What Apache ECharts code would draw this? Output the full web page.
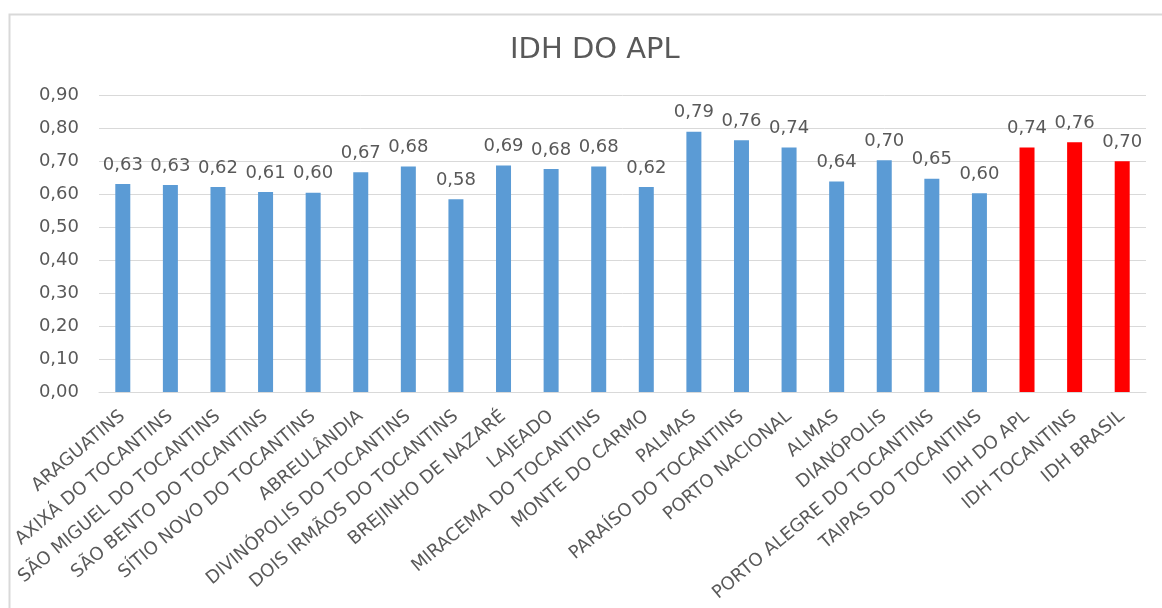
<!DOCTYPE html>
<html>
<head>
<meta charset="utf-8">
<script src="https://cdn.jsdelivr.net/npm/echarts@6/dist/echarts.min.js"></script>
<style>
  html, body { margin: 0; padding: 0; background: #fff; }
  #chart { width: 1162px; height: 608px; }
</style>
</head>
<body>
<div id="chart"></div>
<script>
  // municipios do APL + referencias
  const categories = [
    'ARAGUATINS', 'AXIXÁ DO TOCANTINS', 'SÃO MIGUEL DO TOCANTINS', 'SÃO BENTO DO TOCANTINS',
    'SÍTIO NOVO DO TOCANTINS', 'ABREULÂNDIA', 'DIVINÓPOLIS DO TOCANTINS', 'DOIS IRMÃOS DO TOCANTINS',
    'BREJINHO DE NAZARÉ', 'LAJEADO', 'MIRACEMA DO TOCANTINS', 'MONTE DO CARMO', 'PALMAS',
    'PARAÍSO DO TOCANTINS', 'PORTO NACIONAL', 'ALMAS', 'DIANÓPOLIS', 'PORTO ALEGRE DO TOCANTINS',
    'TAIPAS DO TOCANTINS', 'IDH DO APL', 'IDH TOCANTINS', 'IDH BRASIL'
  ]
  const idhValues = [
    0.630, 0.627, 0.621, 0.606, 0.604, 0.666, 0.683, 0.584, 0.686, 0.676, 0.683,
    0.621, 0.789, 0.763, 0.741, 0.638, 0.702, 0.646, 0.602, 0.741, 0.757, 0.699
  ]
  const highlighted = ['IDH DO APL', 'IDH TOCANTINS', 'IDH BRASIL']
  const yTicks = { min: 0, max: 0.9, interval: 0.1 }

  const BLUE = '#5b9bd5'
  const RED = '#ff0000'
  const TEXT = '#595959'
  const FONT = 'DejaVu Sans'
  const fmt = (v) => v.toFixed(2).replace('.', ',')

  let chart = echarts.init(document.getElementById('chart'))
  let option = {
    backgroundColor: '#fff',
    animation: false,
    textStyle: { fontFamily: FONT },
    title: {
      text: 'IDH DO APL',
      left: 505,
      top: 31,
      textStyle: { color: TEXT, fontSize: 29, fontWeight: 'normal', fontFamily: FONT }
    },
    graphic: [{
      type: 'rect',
      left: 7,
      top: 12,
      shape: { width: 1170, height: 620 },
      style: { fill: 'none', stroke: '#d9d9d9', lineWidth: 2 },
      silent: true
    }],
    grid: { left: 99, right: 16, top: 95, bottom: 216 },
    xAxis: {
      type: 'category',
      data: categories,
      axisLine: { lineStyle: { color: '#d9d9d9', width: 1 } },
      axisTick: { show: false },
      axisLabel: {
        interval: 0,
        rotate: 40,
        color: TEXT,
        fontSize: 18,
        fontFamily: FONT,
        margin: 22
      }
    },
    yAxis: {
      type: 'value',
      min: yTicks.min,
      max: yTicks.max,
      interval: yTicks.interval,
      axisLine: { show: false },
      axisTick: { show: false },
      splitLine: { lineStyle: { color: '#d9d9d9', width: 1 } },
      axisLabel: {
        color: TEXT,
        fontSize: 18,
        fontFamily: FONT,
        margin: 20,
        formatter: (v) => fmt(v)
      }
    },
    series: [{
      type: 'bar',
      barWidth: 15,
      data: idhValues.map((v, i) => ({
        value: v,
        itemStyle: { color: highlighted.includes(categories[i]) ? RED : BLUE }
      })),
      label: {
        show: true,
        position: 'top',
        distance: 10,
        color: TEXT,
        fontSize: 18,
        fontFamily: FONT,
        formatter: (p) => fmt(p.value)
      }
    }]
  }
  chart.setOption(option)

  window.addEventListener('resize', function () {
    chart.resize()
  })
</script>
</body>
</html>
